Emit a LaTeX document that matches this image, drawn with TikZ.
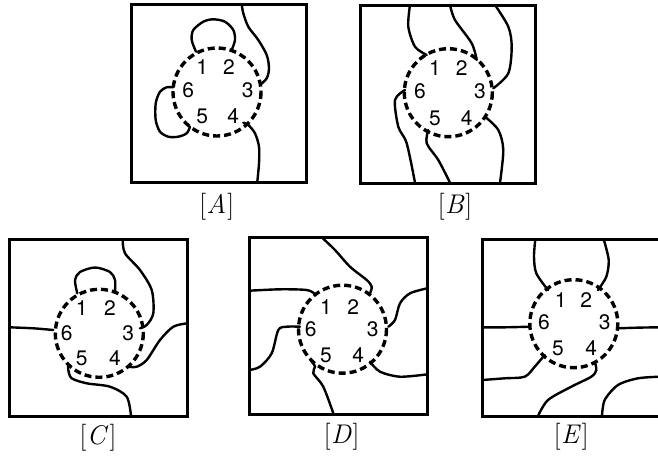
\documentclass[tikz,border=0pt]{standalone}
\usepackage{fontspec}
\newfontfamily\digfont{TeX Gyre Heros}
\tikzset{
  frame/.style={line width=3pt},
  wire/.style={line width=2.4pt, line cap=round},
  ring/.style={line width=3.4pt, dash pattern=on 7pt off 4pt},
  num/.style={font=\digfont\fontsize{21}{23}\selectfont, inner sep=0pt},
  paneltag/.style={font=\fontsize{27}{30}\selectfont, inner sep=0pt},
}
\newcommand{\plab}[1]{[\kern0.5pt\textit{#1}\kern1pt]}
\begin{document}
\begin{tikzpicture}[x=1pt,y=-1pt]
\useasboundingbox (0,0) rectangle (658,459);
% ---------- Panel A ----------
\draw[frame] (131.7,4) rectangle (306.7,182);
\draw[wire] plot[smooth] coordinates{(196,51.7) (191.7,40) (193.3,30) (203.3,21.7) (213.3,19.3) (225,21.7) (233.3,30) (235,40) (231.7,50)};
\draw[wire] plot[smooth] coordinates{(173.3,87.3) (166.7,87.3) (160,91.7) (155.7,103.3) (155.7,120) (160,131.7) (168.3,136.7) (178.3,136.7) (186.7,133.3) (190,126.7)};
\draw[wire] plot[smooth] coordinates{(241.7,4) (243.3,13.3) (248.3,26.7) (258.3,40) (266.7,55) (269,68.3) (266.7,78.3) (260,85)};
\draw[wire] plot[smooth] coordinates{(243.3,122.7) (248.3,125) (255,133.3) (259,146.7) (259,163.3) (257.3,181.7)};
\draw[ring] (217,92) circle (44);
\node[num] (a1) at (202.3,67) {1};
\node[num] (a2) at (229,67) {2};
\node[num] (a3) at (247.7,90) {3};
\node[num] (a4) at (233.3,116) {4};
\node[num] (a5) at (202.3,116) {5};
\node[num] (a6) at (188.3,90) {6};
\node[paneltag] (la) at (216.7,207) {\plab{A}};
% ---------- Panel B ----------
\draw[frame] (360.7,5) rectangle (535,183.3);
\draw[wire] plot[smooth] coordinates{(410,5) (408.3,26.7) (415,46.7) (426.7,55)};
\draw[wire] plot[smooth] coordinates{(450,5) (455,20) (471.7,43.3) (476.7,60)};
\draw[wire] plot[smooth] coordinates{(495,5) (508.3,26.7) (511.7,46.7) (508.3,73.3) (493.3,88.3)};
\draw[wire] plot[smooth] coordinates{(405,90) (395,100) (398.3,126.7) (406.7,143.3) (415,182.7)};
\draw[wire] plot[smooth] coordinates{(428.3,130) (426.7,143.3) (438.3,160) (450,182.7)};
\draw[wire] plot[smooth] coordinates{(485,116.7) (498.3,130) (503.3,150) (500,182.7)};
\draw[ring] (448.3,92.7) circle (44);
\node[num] (b1) at (435,68.3) {1};
\node[num] (b2) at (461.7,68.3) {2};
\node[num] (b3) at (480,91.7) {3};
\node[num] (b4) at (466.7,118.3) {4};
\node[num] (b5) at (435,118.3) {5};
\node[num] (b6) at (420,91.7) {6};
\node[paneltag] (lb) at (455,207) {\plab{B}};
% ---------- Panel C ----------
\draw[frame] (9.3,239.3) rectangle (187.3,416.7);
\draw[wire] plot[smooth] coordinates{(77.3,293.3) (75,280) (80,272) (95,267.5) (110,272) (115,280) (115,291.7)};
\draw[wire] plot[smooth] coordinates{(9.3,327.3) (33.3,328.3) (53.3,330)};
\draw[wire] plot[smooth] coordinates{(122.7,240) (125,253.3) (140,270) (151.7,290) (153.3,313.3) (146.7,325) (140,328.3)};
\draw[wire] plot[smooth] coordinates{(187.3,323.3) (173.3,326.7) (160,340) (146.7,360) (136.7,366.7) (128.3,366.7)};
\draw[wire] plot[smooth] coordinates{(68.3,365) (68.3,370) (71.7,378.3) (86.7,383.3) (110,386.7) (126.7,396.7) (131,416)};
\draw[ring] (99.3,333.3) circle (44);
\node[num] (c1) at (81.7,308.3) {1};
\node[num] (c2) at (110,308.3) {2};
\node[num] (c3) at (128.3,333.3) {3};
\node[num] (c4) at (115,358.3) {4};
\node[num] (c5) at (81.7,358.3) {5};
\node[num] (c6) at (66.7,333.3) {6};
\node[paneltag] (lc) at (98,438) {\plab{C}};
% ---------- Panel D ----------
\draw[frame] (249.3,237.3) rectangle (427.3,414);
\draw[wire] plot[smooth] coordinates{(321.7,237.3) (335,250) (350,266.7) (366.7,280) (371.7,286.7) (370,293.3)};
\draw[wire] plot[smooth] coordinates{(249.3,290.7) (280,289.3) (306.7,290) (315,294)};
\draw[wire] plot[smooth] coordinates{(300,326.7) (286.7,326.7) (278.3,330) (271.7,353.3) (260,366.7) (249.3,370)};
\draw[wire] plot[smooth] coordinates{(427.3,288.3) (410,293.3) (400,303.3) (395,320) (388.3,326.7)};
\draw[wire] plot[smooth] coordinates{(370,361.7) (380,371.7) (400,376.7) (427.3,374.3)};
\draw[wire] plot[smooth] coordinates{(311.7,361.7) (315,366.7) (313.3,373.3) (323.3,386.7) (333.3,413.3)};
\draw[ring] (342.5,329.2) circle (44);
\node[num] (d1) at (326,306.7) {1};
\node[num] (d2) at (353.3,306.7) {2};
\node[num] (d3) at (372.7,329.3) {3};
\node[num] (d4) at (358.3,355) {4};
\node[num] (d5) at (326,355) {5};
\node[num] (d6) at (310.7,329.3) {6};
\node[paneltag] (ld) at (341.7,436.7) {\plab{D}};
% ---------- Panel E ----------
\draw[frame] (662,239.3) -- (482.3,239.3) -- (482.3,416) -- (662,416);
\draw[wire] plot[smooth] coordinates{(535.3,239.3) (534,256.7) (536.3,273.3) (548,290)};
\draw[wire] plot[smooth] coordinates{(603.7,239.3) (608.7,260) (606.3,276.7) (598,290)};
\draw[wire] plot[smooth] coordinates{(482.3,327.3) (505,327.3) (529.7,326.7)};
\draw[wire] plot[smooth] coordinates{(618,328.3) (640,327.6) (660,327.3)};
\draw[wire] plot[smooth] coordinates{(544.7,355) (534.7,366.7) (524.7,376.7) (504.7,378.3) (482.3,380)};
\draw[wire] plot[smooth] coordinates{(594.7,361.7) (596.3,370) (591.3,376.7) (571.3,386.7) (548,400) (538,416)};
\draw[wire] plot[smooth] coordinates{(602,416) (604.7,400) (618,385) (638,378.3) (660,376.7)};
\draw[ring] (573.8,323.7) circle (44);
\node[num] (e1) at (560.7,300) {1};
\node[num] (e2) at (586.3,300) {2};
\node[num] (e3) at (604.7,322.7) {3};
\node[num] (e4) at (591.3,348.3) {4};
\node[num] (e5) at (558,348.3) {5};
\node[num] (e6) at (544,322.7) {6};
\node[paneltag] (le) at (571.3,436.7) {\plab{E}};
\end{tikzpicture}
\end{document}
